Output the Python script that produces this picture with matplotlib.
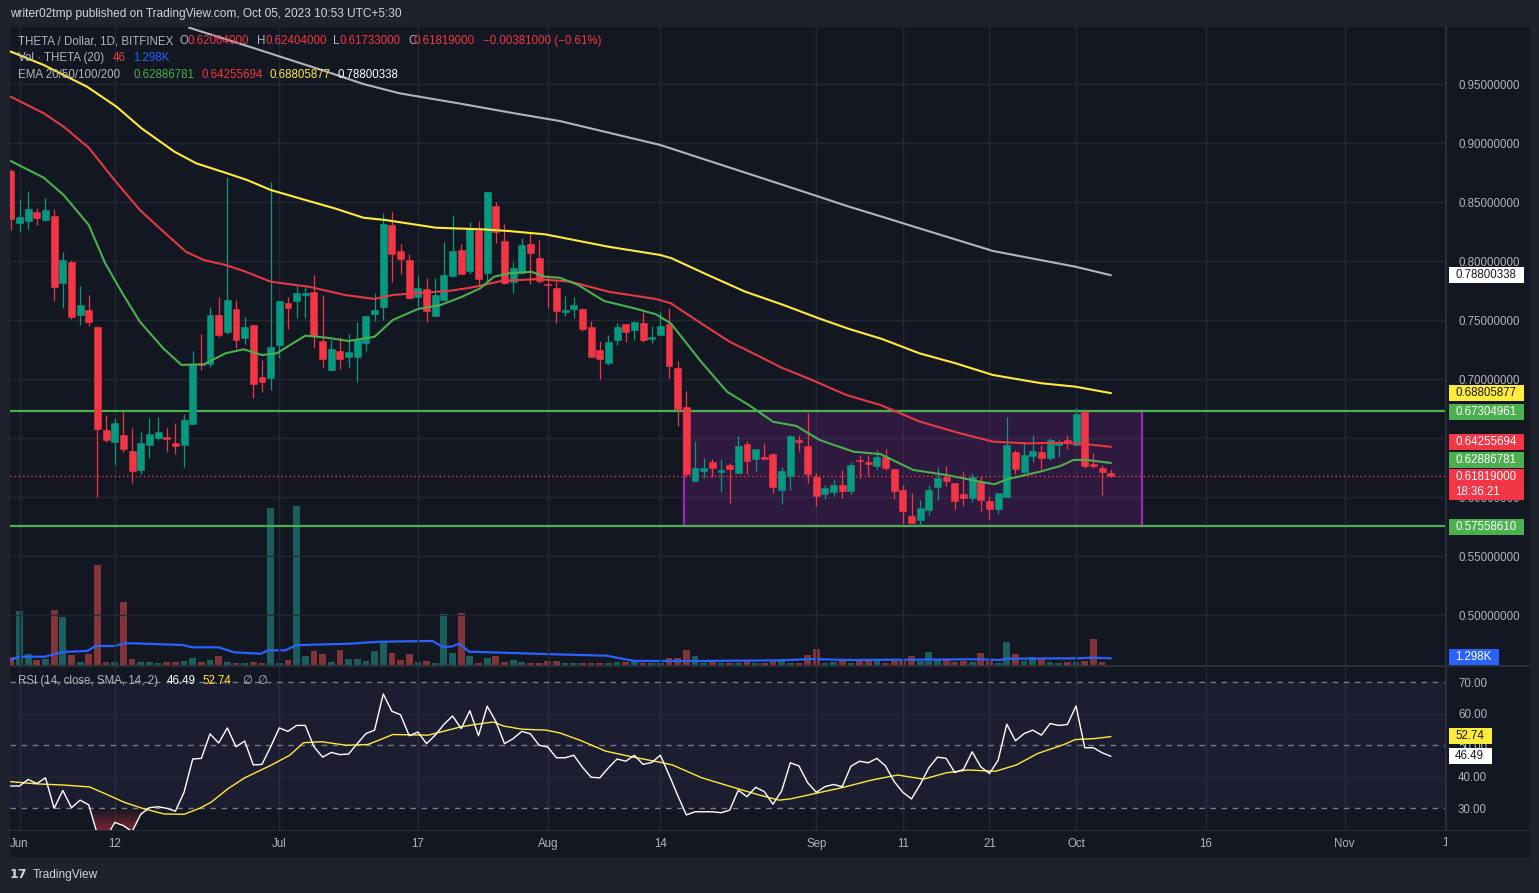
import numpy as np
import pandas as pd
import matplotlib
matplotlib.use("Agg")
import matplotlib.pyplot as plt
from matplotlib.patches import Rectangle
from matplotlib.path import Path
from matplotlib.colors import LinearSegmentedColormap
from matplotlib.transforms import Bbox

plt.rcParams['font.family'] = ['Liberation Sans', 'DejaVu Sans']

# ---------------- data ----------------
start_date = "2023-05-31"
ref_date = "2023-06-01"

opens = [0.8763, 0.8325, 0.8342, 0.8415, 0.8350, 0.8381, 0.7816, 0.7992, 0.7545, 0.7585,
         0.7441, 0.6568, 0.6469, 0.6525, 0.6390, 0.6231, 0.6443, 0.6503, 0.6508, 0.6458,
         0.6443, 0.6621, 0.7127, 0.7130, 0.7542, 0.7401, 0.7593, 0.7350, 0.7458, 0.7017,
         0.7011, 0.7291, 0.7644, 0.7664, 0.7714, 0.7737, 0.7322, 0.7079, 0.7237, 0.7189,
         0.7189, 0.7305, 0.7551, 0.7613, 0.8305, 0.8085, 0.8008, 0.7697, 0.7763, 0.7536,
         0.7672, 0.7875, 0.8093, 0.7918, 0.8263, 0.7901, 0.8466, 0.8169, 0.7825, 0.7901,
         0.8144, 0.8025, 0.7805, 0.7771, 0.7570, 0.7596, 0.7593, 0.7441, 0.7246, 0.7138,
         0.7333, 0.7466, 0.7418, 0.7475, 0.7342, 0.7375, 0.7466, 0.7093, 0.6763, 0.6138,
         0.6223, 0.6297, 0.6214, 0.6271, 0.6206, 0.6449, 0.6322, 0.6339, 0.6364, 0.6062,
         0.6181, 0.6483, 0.6432, 0.6169, 0.6028, 0.6045, 0.6102, 0.6053, 0.6314, 0.6297,
         0.6265, 0.6339, 0.6237, 0.6059, 0.5839, 0.5808, 0.5892, 0.6087, 0.6172, 0.6119,
         0.6025, 0.5994, 0.6127, 0.5966, 0.5901, 0.6003, 0.6381, 0.6214, 0.6347, 0.6381,
         0.6333, 0.6443, 0.6483, 0.6443, 0.6720, 0.6280, 0.6246, 0.62064]
highs = [0.8780, 0.8525, 0.8593, 0.8449, 0.8534, 0.8441, 0.8076, 0.8008, 0.7788, 0.7712,
         0.7450, 0.6695, 0.6669, 0.6720, 0.6585, 0.6551, 0.6669, 0.6678, 0.6585, 0.6627,
         0.6703, 0.7237, 0.7381, 0.7610, 0.7695, 0.8712, 0.7669, 0.7525, 0.7458, 0.7161,
         0.8669, 0.7661, 0.7695, 0.7797, 0.7780, 0.7881, 0.7712, 0.7331, 0.7356, 0.7381,
         0.7483, 0.7534, 0.7729, 0.8407, 0.8415, 0.8144, 0.8059, 0.7881, 0.7856, 0.7856,
         0.8161, 0.8390, 0.8144, 0.8331, 0.8339, 0.8585, 0.8500, 0.8314, 0.7992, 0.8195,
         0.8246, 0.8178, 0.7881, 0.7831, 0.7703, 0.7695, 0.7602, 0.7492, 0.7322, 0.7373,
         0.7475, 0.7466, 0.7492, 0.7568, 0.7449, 0.7568, 0.7602, 0.7153, 0.6898, 0.6475,
         0.6331, 0.6322, 0.6322, 0.6288, 0.6517, 0.6475, 0.6407, 0.6458, 0.6373, 0.6254,
         0.6525, 0.6525, 0.6712, 0.6203, 0.6104, 0.6153, 0.6229, 0.6299, 0.6356, 0.6356,
         0.6398, 0.6407, 0.6237, 0.6102, 0.6034, 0.5975, 0.6102, 0.6257, 0.6263, 0.6119,
         0.6220, 0.6203, 0.6178, 0.6008, 0.6034, 0.6678, 0.6398, 0.6458, 0.6525, 0.6441,
         0.6500, 0.6483, 0.6525, 0.6754, 0.6720, 0.6373, 0.6271, 0.62404]
lows = [0.8263, 0.8246, 0.8274, 0.8308, 0.8342, 0.7664, 0.7604, 0.7511, 0.7460, 0.7452,
        0.6003, 0.6469, 0.6274, 0.6384, 0.6121, 0.6197, 0.6333, 0.6486, 0.6384, 0.6367,
        0.6257, 0.6621, 0.7079, 0.7104, 0.7358, 0.7380, 0.7265, 0.7299, 0.6842, 0.6892,
        0.6909, 0.7181, 0.7426, 0.7519, 0.7519, 0.7265, 0.7104, 0.7070, 0.7087, 0.7104,
        0.6977, 0.7240, 0.7492, 0.7500, 0.7825, 0.7892, 0.7681, 0.7613, 0.7486, 0.7536,
        0.7672, 0.7875, 0.7892, 0.7892, 0.7791, 0.7825, 0.8155, 0.7808, 0.7731, 0.7901,
        0.7808, 0.7816, 0.7604, 0.7477, 0.7536, 0.7519, 0.7409, 0.7189, 0.7003, 0.7121,
        0.7291, 0.7316, 0.7333, 0.7316, 0.7308, 0.7375, 0.7011, 0.6604, 0.6170, 0.6138,
        0.6164, 0.6172, 0.6045, 0.5952, 0.6206, 0.6197, 0.6223, 0.6325, 0.6036, 0.5943,
        0.6062, 0.6392, 0.6121, 0.5926, 0.5986, 0.6011, 0.5994, 0.6028, 0.6164, 0.6181,
        0.6231, 0.6231, 0.5986, 0.5774, 0.5782, 0.5757, 0.5850, 0.5977, 0.6096, 0.5901,
        0.5926, 0.5960, 0.5884, 0.5816, 0.5858, 0.6003, 0.6197, 0.6214, 0.6299, 0.6240,
        0.6316, 0.6342, 0.6409, 0.6443, 0.6248, 0.6248, 0.6019, 0.61733]
closes = [0.8356, 0.8373, 0.8441, 0.8367, 0.8432, 0.7782, 0.8008, 0.7528, 0.7627, 0.7486,
          0.6579, 0.6486, 0.6627, 0.6409, 0.6223, 0.6458, 0.6534, 0.6551, 0.6494, 0.6435,
          0.6653, 0.7119, 0.7119, 0.7542, 0.7375, 0.7669, 0.7333, 0.7441, 0.6960, 0.6977,
          0.7271, 0.7661, 0.7604, 0.7729, 0.7729, 0.7367, 0.7172, 0.7254, 0.7172, 0.7229,
          0.7339, 0.7534, 0.7587, 0.8314, 0.8062, 0.8019, 0.7689, 0.7771, 0.7579, 0.7712,
          0.7881, 0.8085, 0.7892, 0.8280, 0.7850, 0.8585, 0.8248, 0.7816, 0.7941, 0.8136,
          0.8070, 0.7833, 0.7797, 0.7579, 0.7585, 0.7627, 0.7426, 0.7189, 0.7172, 0.7314,
          0.7441, 0.7401, 0.7483, 0.7333, 0.7356, 0.7449, 0.7113, 0.6748, 0.6197, 0.6246,
          0.6246, 0.6246, 0.6231, 0.6237, 0.6432, 0.6308, 0.6407, 0.6325, 0.6087, 0.6220,
          0.6517, 0.6466, 0.6197, 0.6011, 0.6076, 0.6102, 0.6053, 0.6271, 0.6305, 0.6282,
          0.6339, 0.6248, 0.6053, 0.5884, 0.5782, 0.5907, 0.6059, 0.6164, 0.6138, 0.5969,
          0.5994, 0.6169, 0.5977, 0.5901, 0.6034, 0.6441, 0.6240, 0.6356, 0.6390, 0.6333,
          0.6483, 0.6466, 0.6466, 0.6703, 0.6265, 0.6265, 0.6214, 0.61819]
volumes_k = [1.61, 10.48, 2.08, 0.97, 1.16, 10.67, 9.31, 1.94, 0.58, 2.13,
             19.40, 0.58, 0.58, 12.22, 1.16, 0.58, 0.58, 0.39, 0.58, 0.58,
             0.78, 1.36, 0.58, 0.97, 1.75, 0.58, 0.39, 0.39, 0.58, 0.39,
             30.46, 0.39, 0.97, 30.85, 1.75, 2.72, 2.13, 0.58, 2.91, 1.16,
             1.16, 0.78, 2.72, 4.46, 2.33, 0.97, 2.13, 0.58, 0.78, 0.39,
             9.89, 2.33, 10.09, 1.75, 0.39, 1.36, 1.75, 0.58, 0.97, 0.58,
             0.39, 0.39, 0.78, 0.78, 0.39, 0.39, 0.39, 0.39, 0.39, 0.39,
             0.58, 0.58, 0.58, 0.39, 0.39, 0.39, 1.36, 1.36, 2.91, 1.75,
             0.45, 0.64, 0.45, 0.45, 0.45, 0.78, 0.45, 0.45, 0.78, 1.16,
             0.45, 0.45, 2.00, 3.10, 0.45, 0.64, 0.97, 0.45, 0.78, 1.16,
             0.78, 0.45, 0.78, 0.78, 1.75, 0.78, 2.52, 0.97, 0.97, 0.64,
             0.78, 0.64, 2.33, 0.78, 0.45, 4.46, 2.13, 0.78, 1.55, 1.16,
             0.58, 0.39, 0.58, 0.58, 0.78, 5.04, 0.58, 0.046]
rsi_values = [37.0, 37.0, 39.1, 37.8, 39.6, 29.9, 35.6, 30.1, 32.5, 31.0,
              21.5, 20.5, 25.4, 24.4, 22.5, 28.0, 30.1, 30.4, 29.9, 29.0,
              35.0, 45.6, 45.8, 53.6, 50.7, 55.5, 49.5, 51.3, 43.7, 43.9,
              49.5, 55.5, 54.4, 56.3, 56.3, 49.5, 46.2, 47.7, 47.0, 47.2,
              50.5, 53.7, 54.8, 66.3, 60.8, 59.7, 53.0, 54.2, 50.5, 53.2,
              56.6, 59.3, 55.3, 61.0, 53.0, 62.4, 57.6, 50.5, 52.1, 54.4,
              53.6, 50.0, 49.4, 46.0, 46.0, 46.8, 43.0, 39.8, 39.6, 42.8,
              45.6, 44.9, 46.8, 43.9, 44.5, 46.8, 40.6, 34.0, 27.8, 28.8,
              28.8, 28.8, 28.5, 29.3, 35.7, 33.6, 36.6, 35.2, 31.2, 35.4,
              44.4, 43.4, 38.1, 35.0, 36.8, 37.5, 36.8, 43.3, 44.9, 44.4,
              45.8, 43.4, 38.4, 35.0, 32.9, 37.5, 42.8, 46.2, 45.8, 41.3,
              42.3, 47.9, 43.1, 41.0, 45.2, 56.7, 51.4, 53.7, 54.8, 53.2,
              56.9, 56.3, 56.6, 62.5, 49.2, 49.2, 47.6, 46.49]

# moving averages, read at points along each line (day offset from Jun 1, value)
ema20_days = [-1.0, 2.8, 5.1, 8.0, 9.9, 12.0, 13.9, 16.6, 18.7, 21.3,
              23.8, 25.9, 28.0, 29.7, 33.0, 35.5, 38.0, 41.0, 43.1, 46.0,
              48.6, 51.1, 53.2, 54.8, 56.5, 59.1, 60.7, 62.4, 64.5, 67.5,
              71.0, 73.5, 75.2, 78.7, 81.7, 84.2, 87.0, 89.7, 92.4, 96.3,
              99.4, 103.2, 107.1, 110.9, 112.6, 114.0, 117.8, 120.2, 121.7, 123.2, 126.0]
ema20_vals = [0.8847, 0.8706, 0.8559, 0.8305, 0.7980, 0.7712, 0.7486, 0.7260, 0.7119, 0.7125,
              0.7218, 0.7252, 0.7203, 0.7218, 0.7367, 0.7350, 0.7322, 0.7358, 0.7500, 0.7593,
              0.7627, 0.7697, 0.7769, 0.7867, 0.7896, 0.7909, 0.7867, 0.7858, 0.7797, 0.7661,
              0.7599, 0.7548, 0.7472, 0.7147, 0.6892, 0.6780, 0.6638, 0.6602, 0.6483, 0.6384,
              0.6364, 0.6229, 0.6186, 0.6130, 0.6108, 0.6150, 0.6214, 0.6263, 0.6314, 0.6314, 0.62886781]
ema50_days = [-1.0, 2.8, 5.1, 8.0, 10.8, 13.9, 16.2, 19.2, 21.3, 23.8,
              25.9, 29.0, 33.4, 37.6, 41.0, 43.1, 45.6, 49.8, 52.3, 55.7,
              59.9, 63.6, 68.0, 73.5, 75.2, 78.7, 82.0, 85.5, 88.0, 91.5,
              95.5, 99.4, 104.0, 108.6, 112.4, 116.3, 120.2, 123.2, 126.0]
ema50_vals = [0.9392, 0.9252, 0.9138, 0.8960, 0.8701, 0.8432, 0.8277, 0.8079, 0.8008, 0.7966,
              0.7915, 0.7825, 0.7782, 0.7712, 0.7678, 0.7712, 0.7726, 0.7748, 0.7777, 0.7831,
              0.7847, 0.7825, 0.7740, 0.7678, 0.7642, 0.7472, 0.7316, 0.7189, 0.7096, 0.6992,
              0.6864, 0.6780, 0.6638, 0.6540, 0.6469, 0.6455, 0.6460, 0.6447, 0.64255694]
ema100_days = [-1.0, 2.8, 7.8, 11.2, 14.1, 17.9, 20.4, 23.4, 26.3, 29.0,
               33.0, 36.4, 39.7, 42.3, 48.1, 53.6, 56.5, 60.7, 68.0, 74.0,
               75.3, 79.5, 83.8, 88.0, 92.3, 95.8, 99.6, 103.9, 108.1, 112.4,
               118.0, 121.9, 126.0]
ema100_vals = [0.9774, 0.9661, 0.9477, 0.9308, 0.9124, 0.8926, 0.8828, 0.8757, 0.8686, 0.8602,
               0.8517, 0.8446, 0.8367, 0.8347, 0.8282, 0.8268, 0.8254, 0.8226, 0.8121, 0.8051,
               0.8023, 0.7881, 0.7740, 0.7633, 0.7514, 0.7424, 0.7339, 0.7218, 0.7133, 0.7034,
               0.6964, 0.6935, 0.68805877]
ema200_days = [19.6, 27.1, 35.5, 39.7, 43.9, 51.1, 56.5, 62.4, 74.0, 81.7,
               87.6, 92.3, 95.8, 99.6, 103.9, 112.4, 121.9, 126.0]
ema200_vals = [0.9977, 0.9803, 0.9604, 0.9500, 0.9421, 0.9331, 0.9260, 0.9186, 0.8983, 0.8799,
               0.8658, 0.8545, 0.8460, 0.8375, 0.8277, 0.8085, 0.7952, 0.78800338]
vol_ma_days = [-1.1, 0.0, 2.9, 5.0, 7.8, 8.8, 10.9, 12.2, 13.2, 18.9,
               19.9, 23.0, 24.8, 27.9, 28.7, 30.7, 31.9, 33.8, 38.0, 41.6,
               47.7, 48.8, 49.8, 50.8, 51.9, 54.5, 61.7, 67.8, 71.0, 78.6,
               87.8, 91.6, 95.5, 110.9, 113.2, 114.0, 122.5, 123.6, 126.0]
vol_ma_vals = [0.97, 1.61, 1.61, 2.52, 2.72, 3.69, 3.69, 4.21, 4.21, 3.88,
               3.43, 3.43, 2.46, 2.19, 2.85, 2.85, 3.82, 3.94, 4.13, 4.52,
               4.66, 3.55, 3.55, 4.13, 2.58, 2.46, 2.08, 1.80, 0.78, 0.78,
               0.91, 1.16, 0.97, 1.11, 0.97, 1.22, 1.30, 1.42, 1.298]
rsi_sma_days = [-1.0, 1.9, 5.2, 8.1, 10.1, 12.2, 14.2, 16.7, 19.0, 20.8,
                22.1, 24.1, 26.0, 29.1, 31.2, 32.8, 34.9, 37.7, 40.2, 41.5,
                43.1, 47.2, 50.9, 52.6, 54.7, 55.9, 58.0, 60.8, 62.4, 64.7,
                67.7, 70.7, 74.1, 75.4, 78.8, 81.8, 85.2, 87.7, 89.0, 92.0,
                95.0, 98.4, 101.4, 104.4, 107.0, 109.5, 112.7, 115.1, 117.6, 120.6,
                121.9, 124.1, 126.0]
rsi_sma_vals = [38.4, 37.7, 37.3, 36.7, 34.3, 31.7, 29.9, 28.1, 28.0, 29.9,
                31.8, 36.2, 39.6, 43.7, 46.8, 50.8, 51.1, 50.0, 50.2, 51.6,
                53.4, 53.2, 55.8, 56.6, 57.4, 56.1, 55.1, 54.8, 53.9, 51.6,
                48.1, 46.3, 44.5, 43.7, 39.6, 37.1, 34.3, 32.5, 32.9, 34.7,
                36.5, 38.9, 40.5, 39.2, 41.2, 42.1, 41.7, 43.7, 47.4, 50.2,
                51.8, 52.1, 52.74]

resistance_level = 0.67304961
support_level = 0.57558610
last_price = 0.61819000
box_days = [76.7, 129.6]

price_ticks = [0.50, 0.55, 0.60, 0.65, 0.70, 0.75, 0.80, 0.85, 0.90, 0.95]
hidden_price_labels = [0.65]          # fully covered by the value tags in the original
rsi_ticks = [30, 40, 50, 60, 70]
time_tick_dates = ["2023-06-01", "2023-06-12", "2023-07-01", "2023-07-17", "2023-08-01",
                   "2023-08-14", "2023-09-01", "2023-09-11", "2023-09-21", "2023-10-01",
                   "2023-10-16", "2023-11-01", "2023-11-13"]
time_tick_labels = ["Jun", "12", "Jul", "17", "Aug", "14", "Sep", "11", "21", "Oct", "16", "Nov", "13"]

# ---------------- style ----------------
W, H = 1539, 893
BG = '#131722'
FRAME = '#1e222d'
GRID = '#232733'
TXT = '#b2b5be'
UP = '#089981'
DOWN = '#f23645'
FS = 8.3


def fx(px):
    return px / W


def fy(py):
    return 1 - py / H


fig = plt.figure(figsize=(W / 100, H / 100), dpi=100)
fig.patch.set_facecolor(FRAME)
fig.add_artist(Rectangle((fx(10), fy(857)), (1530 - 10) / W, (857 - 27) / H,
                         transform=fig.transFigure, facecolor=BG, edgecolor='none', zorder=0))

n = len(opens)
xd = (pd.date_range(start_date, periods=n, freq='D') - pd.Timestamp(ref_date)).days.values.astype(float)
o = np.array(opens); h = np.array(highs); l = np.array(lows); c = np.array(closes)
up = c >= o
cols = np.where(up, UP, DOWN)

XL = (-1.097, 164.6)
PY = (0.45763, 0.99831)
RY = (23.0, 74.9)
VOL_TOP = 123.8

rect_main = [fx(10), fy(665), 1435 / W, 638 / H]
axv = fig.add_axes(rect_main, zorder=1)
ax = fig.add_axes(rect_main, zorder=2)
axr = fig.add_axes([fx(10), fy(830), 1435 / W, 163 / H], zorder=1)

for a in (axv, ax, axr):
    a.set_xlim(*XL)
    for s in a.spines.values():
        s.set_visible(False)
axv.set_facecolor(BG)
ax.patch.set_visible(False)
axr.set_facecolor(BG)
ax.set_ylim(*PY)
axv.set_ylim(0, VOL_TOP)
axr.set_ylim(*RY)
axv.set_xticks([]); axv.set_yticks([])

tick_days = (pd.to_datetime(time_tick_dates) - pd.Timestamp(ref_date)).days.values.astype(float)

# grid
for t in price_ticks:
    ax.axhline(t, color=GRID, lw=1, zorder=0)
for a in (ax, axr):
    for td in tick_days:
        if XL[0] < td < XL[1]:
            a.axvline(td, color=GRID, lw=1, zorder=0)

# volume
vcols = np.where(up, '#26a69a', '#ef5350')
axv.bar(xd, volumes_k, width=0.78, color=vcols, alpha=0.5, lw=0)
axv.plot(vol_ma_days, vol_ma_vals, color='#2962ff', lw=1.6)

# range box and levels
ax.add_patch(Rectangle((box_days[0], support_level), box_days[1] - box_days[0],
                       resistance_level - support_level, facecolor=(0.612, 0.153, 0.69, 0.2),
                       edgecolor='#9c27b0', lw=1.6, zorder=1))
ax.axhline(resistance_level, color='#4caf50', lw=1.6, zorder=1.5)
ax.axhline(support_level, color='#4caf50', lw=1.6, zorder=1.5)
ax.axhline(last_price, color='#f23645', lw=1, ls=(0, (1, 2)), zorder=1.5)

# candles
ax.vlines(xd, l, h, colors=cols, lw=0.9, zorder=3)
ax.bar(xd, np.abs(c - o), bottom=np.minimum(o, c), width=0.8, color=cols,
       edgecolor=cols, lw=0.4, zorder=4)

# EMAs
ax.plot(ema200_days, ema200_vals, color='#b2b5be', lw=1.5, zorder=5)
ax.plot(ema100_days, ema100_vals, color='#ffeb3b', lw=1.5, zorder=5)
ax.plot(ema50_days, ema50_vals, color='#e53945', lw=1.5, zorder=5)
ax.plot(ema20_days, ema20_vals, color='#4caf50', lw=1.5, zorder=5)

# price axis labels
ax.yaxis.tick_right()
ax.set_yticks(price_ticks)
ax.set_yticklabels(["" if t in hidden_price_labels else f"{t:.8f}" for t in price_ticks])
ax.tick_params(axis='y', length=0, pad=9.4, labelcolor=TXT, labelsize=FS)
ax.set_xticks([])

# RSI pane
axr.axhspan(30, 70, facecolor='#7e57c2', alpha=0.1, lw=0, zorder=0)
for lvl in (40, 60):
    axr.axhline(lvl, color=GRID, lw=1, zorder=0.5)
for lvl in (30, 50, 70):
    axr.axhline(lvl, color='#787b86', lw=1, ls=(0, (4, 4)), zorder=0.6)
rsi = np.array(rsi_values)
poly = axr.fill_between(xd, rsi, 30, where=rsi < 30, interpolate=True,
                        facecolor='none', edgecolor='none')
paths = poly.get_paths()
if len(paths):
    clip = Path.make_compound_path(*paths)
    cmap = LinearSegmentedColormap.from_list(
        'os', [(0.95, 0.21, 0.27, 0.45), (0.95, 0.21, 0.27, 0.0)])
    grad = np.linspace(0, 1, 256).reshape(-1, 1)
    im = axr.imshow(grad, extent=[XL[0], XL[1], RY[0], 30], origin='lower',
                    aspect='auto', cmap=cmap, zorder=1)
    im.set_clip_path(clip, transform=axr.transData)
axr.plot(xd, rsi, color='#ffffff', lw=1, zorder=3)
axr.plot(rsi_sma_days, rsi_sma_vals, color='#ffeb3b', lw=1, zorder=2.5)
axr.set_xlim(*XL); axr.set_ylim(*RY)
axr.yaxis.tick_right()
axr.set_yticks(rsi_ticks)
axr.set_yticklabels([f"{t:.2f}" for t in rsi_ticks])
axr.tick_params(axis='y', length=0, pad=9.4, labelcolor=TXT, labelsize=FS)
vis = [(d, lab) for d, lab in zip(tick_days, time_tick_labels) if XL[0] < d < XL[1]]
axr.set_xticks([d for d, _ in vis])
axr.set_xticklabels([lab for _, lab in vis])
axr.tick_params(axis='x', length=0, pad=6, labelcolor=TXT, labelsize=FS)
# partially hidden last date label
for d, lab in zip(tick_days, time_tick_labels):
    if d >= XL[1]:
        t = axr.text(d, -0.08, lab, transform=axr.get_xaxis_transform(), ha='center',
                     va='center', color=TXT, fontsize=FS, clip_on=True)
        t.set_clip_box(Bbox([[0, 0], [1447, H]]))

# separators
fig.add_artist(Rectangle((fx(1445), fy(830)), 1.5 / W, (830 - 27) / H,
                         transform=fig.transFigure, facecolor='#2a2e39', zorder=3))
fig.add_artist(Rectangle((fx(10), fy(667)), 1520 / W, 2 / H,
                         transform=fig.transFigure, facecolor='#2a2e39', zorder=3))
fig.add_artist(Rectangle((fx(10), fy(831)), 1520 / W, 1 / H,
                         transform=fig.transFigure, facecolor='#2a2e39', zorder=3))


# value tags on the scales
def tag(axis, value, text, bg, fg, shift_px=0.0, width=75, height=16, bottom_extra=0.0):
    ypix = axis.transData.transform((0, value))[1] + shift_px
    y0 = ypix - height / 2 - bottom_extra
    hh = height + bottom_extra
    fig.add_artist(Rectangle((fx(1449), y0 / H), width / W, hh / H, transform=fig.transFigure,
                             facecolor=bg, edgecolor='none', zorder=6))
    fig.text(fx(1455), ypix / H, text, color=fg, fontsize=FS, va='center', ha='left', zorder=7)
    return ypix


tag(ax, ema200_vals[-1], f"{ema200_vals[-1]:.8f}", '#ffffff', '#131722')
tag(ax, ema100_vals[-1], f"{ema100_vals[-1]:.8f}", '#ffeb3b', '#131722')
tag(ax, resistance_level, f"{resistance_level:.8f}", '#4caf50', '#ffffff', shift_px=-1.5)
tag(ax, ema50_vals[-1], f"{ema50_vals[-1]:.8f}", '#f23645', '#ffffff', shift_px=4.4)
tag(ax, ema20_vals[-1], f"{ema20_vals[-1]:.8f}", '#4caf50', '#ffffff', shift_px=3.4)
yp = tag(ax, last_price, f"{last_price:.8f}", '#f23645', '#ffffff', shift_px=-1.0,
         bottom_extra=15.5)
fig.text(fx(1455), (yp - 15.5) / H, "18:36:21", color='#ffffff', fontsize=FS,
         va='center', ha='left', zorder=7)
tag(ax, support_level, f"{support_level:.8f}", '#4caf50', '#ffffff', shift_px=-0.8)
tag(axv, vol_ma_vals[-1], f"{vol_ma_vals[-1]:.3f}K", '#2962ff', '#ffffff', width=50, shift_px=1.3)
tag(axr, rsi_sma_vals[-1], f"{rsi_sma_vals[-1]:.2f}", '#ffeb3b', '#131722', width=43, shift_px=1.0)
tag(axr, rsi_values[-1], f"{rsi_values[-1]:.2f}", '#ffffff', '#131722', width=43, shift_px=0.7)


# legends
def seg(xpx, ypx, s, color, size=FS):
    fig.text(fx(xpx), fy(ypx), s, color=color, fontsize=size, va='center', ha='left', zorder=8)


RED = '#f23645'
seg(18, 41, "THETA / Dollar, 1D, BITFINEX", TXT)
seg(180, 41, "O", TXT); seg(188, 41, f"{opens[-1]:.8f}", RED)
seg(257, 41, "H", TXT); seg(265, 41, f"{highs[-1]:.8f}", RED)
seg(333, 41, "L", TXT); seg(340, 41, f"{lows[-1]:.8f}", RED)
seg(408, 41, "C", TXT); seg(414, 41, f"{closes[-1]:.8f}", RED)
seg(483, 41, "\u22120.00381000 (\u22120.61%)", RED)
seg(18, 58, "Vol \u00b7 THETA (20)", TXT)
seg(113, 58, "46", RED)
seg(133, 58, "1.298K", '#2962ff')
seg(18, 75, "EMA 20/50/100/200", TXT)
seg(133, 75, f"{ema20_vals[-1]:.8f}", '#4caf50')
seg(201, 75, f"{ema50_vals[-1]:.8f}", RED)
seg(269, 75, f"{ema100_vals[-1]:.8f}", '#ffeb3b')
seg(337, 75, f"{ema200_vals[-1]:.8f}", '#ffffff')
seg(18, 681, "RSI (14, close, SMA, 14, 2)", TXT)
seg(167, 681, f"{rsi_values[-1]:.2f}", '#ffffff')
seg(202, 681, f"{rsi_sma_vals[-1]:.2f}", '#ffeb3b')
seg(242, 681, "\u2205", TXT)
seg(257, 681, "\u2205", TXT)

# header and footer
seg(10, 14, "writer02tmp published on TradingView.com, Oct 05, 2023 10:53 UTC+5:30", '#d1d4dc', 8.6)
fig.text(fx(10), fy(875), "17", color='#d1d4dc', fontsize=9, fontweight='bold',
         va='center', ha='left', family='DejaVu Sans')
seg(33, 875, "TradingView", '#d1d4dc', 8.6)

fig.savefig("out.png", dpi=100, facecolor=fig.get_facecolor())
